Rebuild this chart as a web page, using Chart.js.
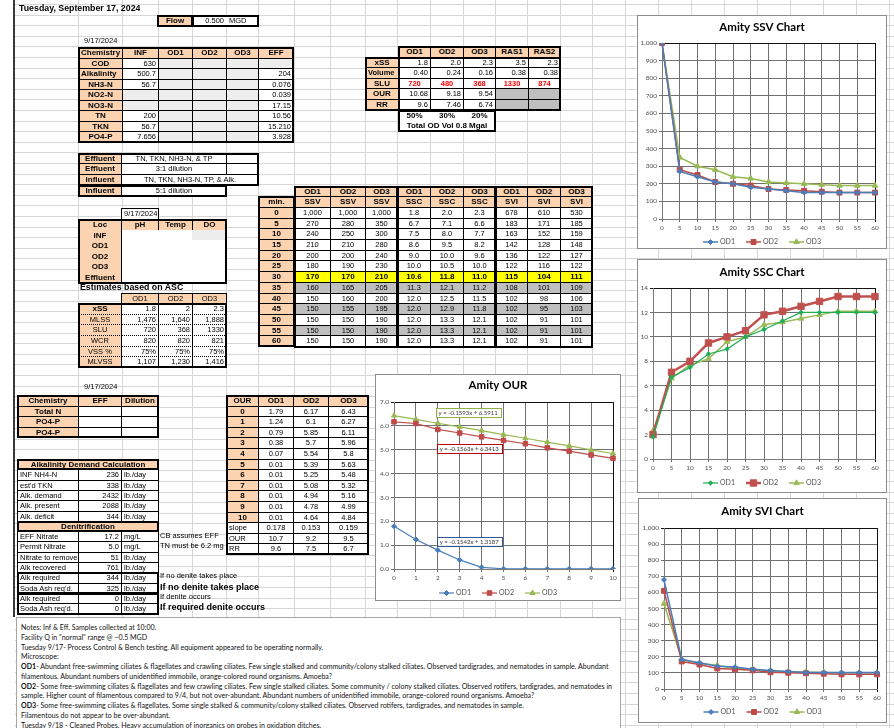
<!DOCTYPE html>
<html>
<head>
<meta charset="utf-8">
<title>Amity Process Control - Tuesday, September 17, 2024</title>
<script src="https://cdn.jsdelivr.net/npm/chart.js@4.4.1/dist/chart.umd.min.js"></script>
<style>
html,body{margin:0;padding:0;background:#fff;}
#page{position:relative;width:894px;height:728px;overflow:hidden;font-family:"Liberation Sans",Arial,sans-serif;font-size:7.5px;color:#000;}
#bg{position:absolute;left:0;top:0;}
.cell{position:absolute;box-sizing:border-box;border:1px solid #000;white-space:nowrap;overflow:hidden;padding:0 2px;background:#fff;text-align:center;}
.h{background:#fbd3b1;font-weight:bold;}
.hn{background:#fbd3b1;}
.g{background:#ededed;}
.d{background:#bfbfbf;}
.y{background:#ffff00;font-weight:bold;}
.r{text-align:right;}
.l{text-align:left;}
.b{font-weight:bold;}
.big{font-size:8px;}
.red{color:#ff0000;font-weight:bold;}
.nb{border-color:transparent;}
.dot{border-top:1px dotted #000;border-bottom:1px dotted #000;}
.box{position:absolute;box-sizing:border-box;border:2px solid #000;pointer-events:none;}
.ln{position:absolute;background:#000;}
.txt{position:absolute;white-space:nowrap;overflow:hidden;}
.chartbox{position:absolute;box-sizing:border-box;border:1px solid #8c8c8c;background:#fff;}
.chartbox canvas{position:absolute;left:0;top:0;}
#notes{position:absolute;left:16px;top:617px;width:605px;height:120px;box-sizing:border-box;border:1px solid #a6a6a6;background:#fff;font-family:Lato,"Open Sans",sans-serif;font-size:7.05px;color:#111;padding:5px 0 0 4px;}
#notes div{height:9.75px;line-height:9.75px;white-space:nowrap;}
</style>
</head>
<body>
<div id="page">
<canvas id="bg" width="894" height="728"></canvas>
</div>
<script>
// ---- settling test data ----
const minutes = [0, 5, 10, 15, 20, 25, 30, 35, 40, 45, 50, 55, 60];
const ssvOD1 = [1000, 270, 240, 210, 200, 180, 170, 160, 150, 150, 150, 150, 150];
const ssvOD2 = [1000, 280, 250, 210, 200, 190, 170, 165, 160, 155, 150, 150, 150];
const ssvOD3 = [1000, 350, 300, 280, 240, 230, 210, 205, 200, 195, 190, 190, 190];
const sscOD1 = [1.8, 6.7, 7.5, 8.6, 9.0, 10.0, 10.6, 11.3, 12.0, 12.0, 12.0, 12.0, 12.0];
const sscOD2 = [2.0, 7.1, 8.0, 9.5, 10.0, 10.5, 11.8, 12.1, 12.5, 12.9, 13.3, 13.3, 13.3];
const sscOD3 = [2.3, 6.6, 7.7, 8.2, 9.6, 10.0, 11.0, 11.2, 11.5, 11.8, 12.1, 12.1, 12.1];
const sviOD1 = [678, 183, 163, 142, 136, 122, 115, 108, 102, 102, 102, 102, 102];
const sviOD2 = [610, 171, 152, 128, 122, 116, 104, 101, 98, 95, 91, 91, 91];
const sviOD3 = [530, 185, 159, 148, 127, 122, 111, 109, 106, 103, 101, 101, 101];

// ---- oxygen uptake data ----
const ourMinutes = [0, 1, 2, 3, 4, 5, 6, 7, 8, 9, 10];
const ourOD1 = [1.79, 1.24, 0.79, 0.38, 0.07, 0.01, 0.01, 0.01, 0.01, 0.01, 0.01];
const ourOD2 = [6.17, 6.1, 5.85, 5.7, 5.54, 5.39, 5.25, 5.08, 4.94, 4.78, 4.64];
const ourOD3 = [6.43, 6.27, 6.11, 5.96, 5.8, 5.63, 5.48, 5.32, 5.16, 4.99, 4.84];
const ourSlope = ['0.178', '0.153', '0.159'];
const ourRate = ['10.7', '9.2', '9.5'];
const ourRR = ['9.6', '7.5', '6.7'];
const trendEq = ['y = -0.1542x + 1.3187', 'y = -0.1563x + 6.3413', 'y = -0.1593x + 6.5911'];
// where each trend equation box sits (minute, value)
const trendLabelAt = [[1.95, 1.14], [1.95, 5.03], [1.9, 6.54]];

const page = document.getElementById('page');

// ---- worksheet gridlines ----
(function drawSheet() {
  const c = document.getElementById('bg').getContext('2d');
  c.fillStyle = '#fff'; c.fillRect(0, 0, 894, 728);
  c.strokeStyle = '#d6d6d6'; c.lineWidth = 1;
  const cols = [78, 122, 158, 192, 226, 258, 294, 330, 365, 397, 430, 463, 495, 527, 560, 592, 625, 658, 691, 724, 757, 790, 823, 856, 889];
  cols.forEach(x => { c.beginPath(); c.moveTo(x + 0.5, 0); c.lineTo(x + 0.5, 728); c.stroke(); });
  for (let y = 4; y < 728; y += 10.6) {
    const yy = Math.round(y) + 0.5;
    c.beginPath(); c.moveTo(15, yy); c.lineTo(894, yy); c.stroke();
  }
  c.fillStyle = '#3a3a3a'; c.fillRect(13, 0, 2, 617);
})();

function el(cls, x, y, w, h, text, style) {
  const d = document.createElement('div');
  d.className = cls;
  d.style.left = x + 'px'; d.style.top = y + 'px';
  if (w != null) d.style.width = w + 'px';
  if (h != null) { d.style.height = h + 'px'; d.style.lineHeight = Math.max(h - 2, 1) + 'px'; }
  if (text != null) d.textContent = text;
  if (style) Object.assign(d.style, style);
  page.appendChild(d);
  return d;
}
function table(x0, y0, widths, rowH, rows) {
  const xs = [x0];
  widths.forEach(w => xs.push(xs[xs.length - 1] + w));
  rows.forEach((row, ri) => {
    const top = Math.round(y0 + ri * rowH), bot = Math.round(y0 + (ri + 1) * rowH);
    let ci = 0;
    row.forEach(spec => {
      const [t, cls = '', span = 1] = Array.isArray(spec) ? spec : [spec];
      if (cls !== 'skip') el('cell ' + cls, xs[ci], top, xs[ci + span] - xs[ci] + 1, bot - top + 1, t);
      ci += span;
    });
  });
}
function box(x, y, w, h, bw) {
  const b = el('box', Math.round(x), Math.round(y), Math.round(w) + 1, Math.round(h) + 1);
  if (bw) b.style.borderWidth = bw + 'px';
}
function txt(x, y, text, style, w) {
  return el('txt', x, y, w == null ? null : w, 10, text, style);
}

// ---- header ----
txt(19, 4, 'Tuesday, September 17, 2024', {fontWeight: 'bold', fontSize: '8.8px'});
table(157, 15, [35, 34, 32], 10.6, [[['Flow', 'h big'], ['0.500', 'r nb'], ['MGD', 'l nb']]]);
box(157, 15, 35, 10.6); box(192, 15, 66, 10.6);

// ---- lab chemistry ----
txt(84, 37, '9/17/2024');
table(78, 47, [44, 36, 34, 34, 32, 35], 10.55, [
  [['Chemistry', 'h l big'], ['INF', 'h big'], ['OD1', 'h big'], ['OD2', 'h big'], ['OD3', 'h big'], ['EFF', 'h big']],
  [['COD', 'h big'], ['630', 'r'], ['', 'g'], ['', 'g'], ['', 'g'], ['', 'g']],
  [['Alkalinity', 'h l big'], ['500.7', 'r'], ['', 'g'], ['', 'g'], ['', 'g'], ['204', 'r']],
  [['NH3-N', 'h big'], ['56.7', 'r'], ['', 'g'], ['', 'g'], ['', 'g'], ['0.076', 'r']],
  [['NO2-N', 'h big'], ['', 'g'], ['', 'g'], ['', 'g'], ['', 'g'], ['0.039', 'r']],
  [['NO3-N', 'h big'], ['', 'g'], ['', 'g'], ['', 'g'], ['', 'g'], ['17.15', 'r']],
  [['TN', 'h big'], ['200', 'r'], ['', 'g'], ['', 'g'], ['', 'g'], ['10.56', 'r']],
  [['TKN', 'h big'], ['56.7', 'r'], ['', 'g'], ['', 'g'], ['', 'g'], ['15.210', 'r']],
  [['PO4-P', 'h big'], ['7.656', 'r'], ['', 'g'], ['', 'g'], ['', 'g'], ['3.928', 'r']]
]);
box(78, 47, 215, 95);

// ---- ditch loading ----
table(398, 46, [32, 33, 32, 33, 32], 10.6, [[['OD1', 'h big'], ['OD2', 'h big'], ['OD3', 'h big'], ['RAS1', 'h big'], ['RAS2', 'h big']]]);
table(365, 56.6, [33, 32, 33, 32, 33, 32], 10.6, [
  [['xSS', 'h big'], ['1.8', 'r'], ['2.0', 'r'], ['2.3', 'r'], ['3.5', 'r'], ['2.3', 'r']],
  [['Volume', 'h l'], ['0.40', 'r'], ['0.24', 'r'], ['0.16', 'r'], ['0.38', 'r'], ['0.38', 'r']],
  [['SLU', 'h big'], ['720', 'red'], ['480', 'red'], ['368', 'red'], ['1330', 'red'], ['874', 'red']],
  [['OUR', 'h big'], ['10.68', 'r'], ['9.18', 'r'], ['9.54', 'r'], ['', 'd'], ['', 'd']],
  [['RR', 'h big'], ['9.6', 'r'], ['7.46', 'r'], ['6.74', 'r'], ['', 'd'], ['', 'd']]
]);
table(398, 109.6, [32, 33, 32], 10.6, [
  [['50%', 'b big nb'], ['30%', 'b big nb'], ['20%', 'b big nb']],
  [['Total OD Vol 0.8 Mgal', 'b big nb', 3]]
]);
box(398, 46, 162, 63.6); box(365, 56.6, 195, 53); box(398, 109.6, 97, 21.2);

// ---- sampling notes ----
table(78, 152.5, [43, 105, 32], 10.7, [
  [['Effluent', 'h big'], ['TN, TKN, NH3-N, & TP'], ['']],
  [['Effluent', 'h big'], ['3:1 dilution'], ['']],
  [['Influent', 'h big'], ['TN, TKN, NH3-N, TP, & Alk.', '', 2]],
  [['Influent', 'h big'], ['5:1 dilution'], ['', 'skip']]
]);
box(78, 152.5, 180, 32.1); box(78, 184.6, 148, 10.7);

// ---- field readings ----
el('cell', 121, 208, 38, 12, '9/17/2024');
table(78, 219, [43, 37, 34, 34], 10.6, [
  [['Loc', 'h big'], ['pH', 'h big'], ['Temp', 'h big'], ['DO', 'h big']],
  [['INF', 'h big nb'], ['', 'nb'], ['', 'nb'], ['', 'g nb']],
  [['OD1', 'h big nb'], ['', 'nb'], ['', 'nb'], ['', 'nb']],
  [['OD2', 'h big nb'], ['', 'nb'], ['', 'nb'], ['', 'nb']],
  [['OD3', 'h big nb'], ['', 'nb'], ['', 'nb'], ['', 'nb']],
  [['Effluent', 'h big nb'], ['', 'nb'], ['', 'nb'], ['', 'nb']]
]);
el('ln', 121, 230, 1, 53);
box(78, 219, 148, 63.6);

// ---- estimates ----
txt(80, 283, 'Estimates based on ASC', {fontWeight: 'bold', fontSize: '8.8px'});
table(121, 292.5, [37, 34, 34], 10.6, [[['OD1', 'hn'], ['OD2', 'hn'], ['OD3', 'hn']]]);
table(78, 303.1, [43, 37, 34, 34], 10.6, [
  [['xSS', 'h big dot'], ['1.8', 'r dot'], ['2', 'r dot'], ['2.3', 'r dot']],
  [['MLSS', 'hn dot'], ['1,476', 'r dot'], ['1,640', 'r dot'], ['1,888', 'r dot']],
  [['SLU', 'hn dot'], ['720', 'r dot'], ['368', 'r dot'], ['1330', 'r dot']],
  [['WCR', 'hn dot'], ['820', 'r dot'], ['820', 'r dot'], ['821', 'r dot']],
  [['VSS %', 'hn dot'], ['75%', 'r dot'], ['75%', 'r dot'], ['75%', 'r dot']],
  [['MLVSS', 'hn dot'], ['1,107', 'r dot'], ['1,230', 'r dot'], ['1,416', 'r dot']]
]);
box(78, 303.1, 148, 63.6);

// ---- settling table, built from the same series as the charts ----
(function settleTable() {
  const widths = [36, 36, 35, 32, 33, 33, 32, 32, 33, 32];
  const fmtSSV = v => v.toLocaleString('en-US');
  const fmtSSC = v => v.toFixed(1);
  const head1 = [['', 'skip']];
  for (let k = 0; k < 3; k++) head1.push(['OD1', 'h big'], ['OD2', 'h big'], ['OD3', 'h big']);
  const head2 = [['min.', 'h big'], ['SSV', 'h big'], ['SSV', 'h big'], ['SSV', 'h big'], ['SSC', 'h big'], ['SSC', 'h big'], ['SSC', 'h big'], ['SVI', 'h big'], ['SVI', 'h big'], ['SVI', 'h big']];
  const rows = [head1, head2];
  minutes.forEach((m, i) => {
    const cls = m === 30 ? 'y big' : (m === 35 || m === 45 || m === 55 ? 'd' : '');
    rows.push([[String(m), 'h big'],
      [fmtSSV(ssvOD1[i]), cls], [fmtSSV(ssvOD2[i]), cls], [fmtSSV(ssvOD3[i]), cls],
      [fmtSSC(sscOD1[i]), cls], [fmtSSC(sscOD2[i]), cls], [fmtSSC(sscOD3[i]), cls],
      [String(sviOD1[i]), cls], [String(sviOD2[i]), cls], [String(sviOD3[i]), cls]]);
  });
  table(258, 185.5, widths, 10.7, rows);
  box(294, 185.5, 103, 160.5); box(397, 185.5, 98, 160.5); box(495, 185.5, 97, 160.5);
  box(258, 196.2, 36, 149.8);
})();

// ---- effluent chemistry ----
txt(84, 383, '9/17/2024');
table(17, 395, [61, 43, 37], 10.5, [
  [['Chemistry', 'h big'], ['EFF', 'h big'], ['Dilution', 'h big']],
  [['Total N', 'h big'], [''], ['']],
  [['PO4-P', 'h big'], [''], ['']],
  [['PO4-P', 'h big'], [''], ['']]
]);
box(17, 395, 141, 42);

// ---- alkalinity demand ----
table(17, 459, [61, 43, 37], 10.3, [
  [['Alkalinity Demand Calculation', 'h big', 3]],
  [['INF NH4-N', 'l'], ['236', 'r'], ['lb./day', 'l']],
  [["est'd TKN", 'l'], ['338', 'r'], ['lb./day', 'l']],
  [['Alk. demand', 'l'], ['2432', 'r'], ['lb./day', 'l']],
  [['Alk. present', 'l'], ['2088', 'r'], ['lb./day', 'l']],
  [['Alk. deficit', 'l'], ['344', 'r'], ['lb./day', 'l']],
  [['Denitrification', 'h big', 3]],
  [['EFF Nitrate', 'l'], ['17.2', 'r'], ['mg/L', 'l']],
  [['Permit Nitrate', 'l'], ['5.0', 'r'], ['mg/L', 'l']],
  [['Nitrate to remove', 'l'], ['51', 'r'], ['lb./day', 'l']],
  [['Alk recovered', 'l'], ['761', 'r'], ['lb./day', 'l']],
  [['Alk required', 'l'], ['344', 'r'], ['lb./day', 'l']],
  [["Soda Ash req'd.", 'l'], ['325', 'r'], ['lb./day', 'l']],
  [['Alk required', 'l'], ['0', 'r'], ['lb./day', 'l']],
  [["Soda Ash req'd.", 'l'], ['0', 'r'], ['lb./day', 'l']]
]);
box(17, 459, 141, 10.3); box(17, 520.8, 141, 10.3);
box(17, 572.3, 141, 20.6); box(17, 592.9, 141, 20.6);
txt(160, 531.6, 'CB assumes EFF', null, 66);
txt(160, 541.9, 'TN must be 6.2 mg', null, 66);
txt(160, 572.3, 'If no denite takes place');
txt(160, 582.6, 'If no denite takes place', {fontWeight: 'bold', fontSize: '9px'});
txt(160, 592.9, 'If denite occurs');
txt(160, 603.2, 'If required denite occurs', {fontWeight: 'bold', fontSize: '9px'});

// ---- oxygen uptake table ----
(function ourTable() {
  const rows = [[['OUR', 'h big'], ['OD1', 'h big'], ['OD2', 'h big'], ['OD3', 'h big']]];
  ourMinutes.forEach((m, i) => rows.push([[String(m), 'h big'], [String(ourOD1[i])], [String(ourOD2[i])], [String(ourOD3[i])]]));
  rows.push([['slope', 'l']].concat(ourSlope.map(v => [v])));
  rows.push([['OUR', 'l']].concat(ourRate.map(v => [v])));
  rows.push([['RR', 'l']].concat(ourRR.map(v => [v])));
  table(226, 395, [32, 35, 35, 40], 10.6, rows);
  box(226, 395, 142, 159);
})();

// ---- notes ----
(function notes() {
  const n = document.createElement('div');
  n.id = 'notes';
  const lines = [
    ['', 'Notes: Inf & Eff. Samples collected at 10:00.'],
    ['', 'Facility Q in "normal" range @ ~0.5 MGD'],
    ['', 'Tuesday 9/17- Process Control & Bench testing. All equipment appeared to be operating normally.'],
    ['', 'Microscope:'],
    ['OD1', '- Abundant free-swimming ciliates & flagellates and crawling ciliates. Few single stalked and community/colony stalked ciliates. Observed tardigrades, and nematodes in sample.  Abundant'],
    ['', 'filamentous. Abundant numbers of unidentified immobile, orange-colored round organisms. Amoeba?'],
    ['OD2', '- Some free-swimming ciliates & flagellates and few crawling ciliates. Few single stalked ciliates. Some community / colony stalked ciliates. Observed rotifers, tardigrades, and nematodes in'],
    ['', 'sample.  Higher count of filamentous compared to 9/4, but not over-abundant. Abundant numbers of unidentified immobile, orange-colored round organisms. Amoeba?'],
    ['OD3', '- Some free-swimming ciliates & flagellates. Some single stalked & community/colony stalked ciliates. Observed rotifers, tardigrades, and nematodes in sample.'],
    ['', 'Filamentous do not appear to be over-abundant.'],
    ['', 'Tuesday 9/18 - Cleaned Probes. Heavy accumulation of inorganics on probes in oxidation ditches.']
  ];
  lines.forEach(([b, t]) => {
    const d = document.createElement('div');
    if (b) { const s = document.createElement('b'); s.textContent = b; d.appendChild(s); }
    d.appendChild(document.createTextNode(t));
    n.appendChild(d);
  });
  page.appendChild(n);
})();

// ---- charts ----
const FONT = 'Lato, "Open Sans", sans-serif';
const GRID = '#707070', EDGE = '#111111', AXIS = '#7a7a7a', TICK = '#505050';
const BLUE = '#4a7ebb', RED = '#be4b48', GREEN = '#98b954';

const xlTitle = {
  id: 'xlTitle',
  afterDraw(chart, args, o) {
    const c = chart.ctx; c.save();
    c.font = 'bold 11.5px ' + FONT; c.fillStyle = '#000';
    c.textAlign = 'center'; c.textBaseline = 'middle';
    c.fillText(o.text, chart.width / 2, o.y);
    c.restore();
  }
};
const xlLegend = {
  id: 'xlLegend',
  afterDraw(chart, args, o) {
    const c = chart.ctx; c.save();
    c.font = '7px ' + FONT; c.textBaseline = 'middle';
    const sets = chart.data.datasets, segW = 15, gap = 2, space = 11;
    const ws = sets.map(d => segW + gap + c.measureText(d.label).width);
    let x = (chart.width - ws.reduce((a, b) => a + b, 0) - space * (sets.length - 1)) / 2;
    sets.forEach((d, i) => {
      c.strokeStyle = d.borderColor; c.lineWidth = d.borderWidth;
      c.beginPath(); c.moveTo(x, o.y); c.lineTo(x + segW, o.y); c.stroke();
      c.fillStyle = d.pointBackgroundColor; c.strokeStyle = d.pointBorderColor; c.lineWidth = 1;
      Chart.helpers.drawPoint(c, {pointStyle: d.pointStyle, radius: d.pointRadius, rotation: 0, borderWidth: 1}, x + segW / 2, o.y);
      c.fillStyle = TICK; c.textAlign = 'left';
      c.fillText(d.label, x + segW + gap, o.y);
      x += ws[i] + space;
    });
    c.restore();
  }
};
const xlTrend = {
  id: 'xlTrend',
  afterDatasetsDraw(chart, args, o) {
    const c = chart.ctx, xs = chart.scales.x, ys = chart.scales.y;
    c.save();
    c.font = '6px ' + FONT; c.textBaseline = 'middle'; c.textAlign = 'left';
    o.items.forEach(it => {
      const x = xs.getPixelForValue(it.at[0]), y = ys.getPixelForValue(it.at[1]);
      const w = c.measureText(it.text).width + 6, h = 9;
      c.fillStyle = 'rgba(255,255,255,0.85)'; c.fillRect(x, y - h / 2, w, h);
      c.strokeStyle = it.color; c.lineWidth = 1;
      c.strokeRect(Math.round(x) + 0.5, Math.round(y - h / 2) + 0.5, Math.round(w), h);
      c.fillStyle = '#404040'; c.fillText(it.text, x + 3, y + 0.5);
    });
    c.restore();
  }
};

function series(label, data, color, style, radius, width) {
  return {label, data, borderColor: color, backgroundColor: color, pointBackgroundColor: color, pointBorderColor: color,
    pointStyle: style, pointRadius: radius, pointBorderWidth: 1, borderWidth: width, tension: 0, fill: false};
}

function lineChart(o) {
  const host = el('chartbox', o.box[0], o.box[1], o.box[2], o.box[3]);
  const cv = document.createElement('canvas');
  cv.width = o.box[2] - 2; cv.height = o.box[3] - 2;
  host.appendChild(cv);
  const last = o.labels.length - 1;
  const tickFont = {family: FONT, size: 6.5};
  return new Chart(cv, {
    type: 'line',
    data: {labels: o.labels, datasets: o.datasets},
    options: {
      responsive: false, animation: false, events: [],
      layout: {padding: o.pad},
      plugins: {
        legend: {display: false}, title: {display: false}, tooltip: {enabled: false},
        xlTitle: {text: o.title, y: o.titleY}, xlLegend: {y: o.legendY}, xlTrend: o.trend || false
      },
      scales: {
        x: {
          type: 'category', offset: false,
          grid: {color: c => c.index === last ? EDGE : GRID, lineWidth: 1, tickLength: 3},
          border: {color: AXIS, width: 1},
          ticks: {autoSkip: false, maxRotation: 0, minRotation: 0, padding: 2, color: TICK, font: tickFont},
          afterFit: s => { s.height = o.xh; }
        },
        y: {
          min: o.min, max: o.max,
          grid: {color: c => (c.tick && c.tick.value === o.max) ? EDGE : GRID, lineWidth: 1, tickLength: 3},
          border: {color: AXIS, width: 1},
          ticks: {stepSize: o.step, padding: 2, color: TICK, font: tickFont, callback: o.fmt},
          afterFit: s => { s.width = o.yw; }
        }
      }
    },
    plugins: [xlTitle, xlLegend, xlTrend]
  });
}

const thousands = v => Number(v).toLocaleString('en-US');

lineChart({
  box: [637, 15, 250, 234], pad: {left: 3, right: 11, top: 27, bottom: 15}, yw: 21, xh: 14,
  title: 'Amity SSV Chart', titleY: 11, legendY: 226,
  labels: minutes, min: 0, max: 1000, step: 100, fmt: thousands,
  datasets: [
    series('OD1', ssvOD1, BLUE, 'rectRot', 2.5, 1.5),
    series('OD2', ssvOD2, RED, 'rect', 3.5, 1.5),
    series('OD3', ssvOD3, GREEN, 'triangle', 3.2, 1.5)
  ]
});

lineChart({
  box: [637, 259, 250, 234], pad: {left: 2, right: 11, top: 28, bottom: 19}, yw: 13, xh: 14,
  title: 'Amity SSC Chart', titleY: 12, legendY: 223,
  labels: minutes, min: 0, max: 14, step: 2, fmt: v => String(v),
  datasets: [
    series('OD1', sscOD1, '#1fae55', 'rectRot', 2.2, 1.2),
    series('OD2', sscOD2, '#c0504d', 'rect', 4.5, 2.5),
    series('OD3', sscOD3, '#9bbb59', 'triangle', 3.2, 1.5)
  ]
});

lineChart({
  box: [638, 498, 249, 225], pad: {left: 3, right: 9, top: 29, bottom: 20}, yw: 22, xh: 13,
  title: 'Amity SVI Chart', titleY: 12, legendY: 213,
  labels: minutes, min: 0, max: 1000, step: 100, fmt: thousands,
  datasets: [
    series('OD1', sviOD1, BLUE, 'rectRot', 2.5, 1.5),
    series('OD2', sviOD2, RED, 'rect', 3.5, 1.5),
    series('OD3', sviOD3, GREEN, 'triangle', 3.2, 1.5)
  ]
});

lineChart({
  box: [375, 374, 246, 227], pad: {left: 3, right: 7, top: 27, bottom: 19}, yw: 15, xh: 12,
  title: 'Amity OUR', titleY: 10, legendY: 218,
  labels: ourMinutes, min: 0, max: 7, step: 1, fmt: v => Number(v).toFixed(1),
  datasets: [
    series('OD1', ourOD1, BLUE, 'rectRot', 2.5, 1.2),
    series('OD2', ourOD2, RED, 'rect', 3.2, 1.2),
    series('OD3', ourOD3, GREEN, 'triangle', 3, 1.2)
  ],
  trend: {items: [
    {text: trendEq[0], at: trendLabelAt[0], color: '#2f5597'},
    {text: trendEq[1], at: trendLabelAt[1], color: '#c00000'},
    {text: trendEq[2], at: trendLabelAt[2], color: '#8fb34a'}
  ]}
});
</script>
</body>
</html>
